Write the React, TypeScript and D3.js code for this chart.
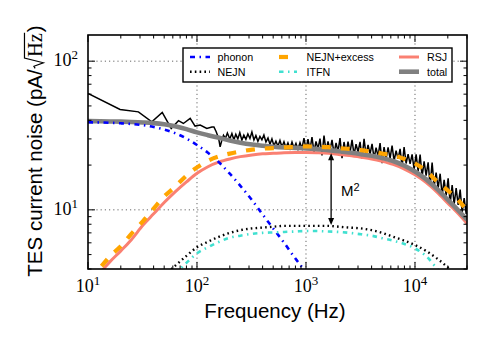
import React, { useEffect, useRef } from 'react';
import * as d3 from 'd3';

// model curves, sampled on a common frequency grid (Hz); values in pA/sqrt(Hz)
const modelFreq = [10, 13, 16, 20, 25, 32, 40, 50, 63, 80, 100, 126, 160, 200, 250, 320, 400, 500, 630, 800,
  1000, 1260, 1600, 2000, 2500, 3200, 4000, 5000, 6300, 8000, 10000, 12600, 16000, 20000, 25000, 30000];
const phonon = [38.8, 38.7, 38.5, 38.2, 37.8, 37.1, 36.1, 34.7, 32.8, 30.2, 27.3, 24.2, 20.8, 17.5, 14.5, 11.6, 9.3, 7.5, 6.0, 4.7,
  3.8, 3.0, null, null, null, null, null, null, null, null, null, null, null, null, null, null];
const nejn = [null, null, null, null, null, null, null, 3.6, 4.2, 4.9, 5.6, 6.1, 6.6, 7.0, 7.3, 7.5, 7.6, 7.7, 7.8, 7.8,
  7.8, 7.8, 7.8, 7.7, 7.6, 7.5, 7.3, 7.0, 6.6, 6.2, 5.8, 5.3, 4.7, 4.1, 3.5, null];
const nejnExcess = [3.4, 4.1, 4.9, 5.7, 6.9, 8.4, 10.2, 12.3, 14.3, 17.0, 19.3, 21.4, 22.9, 23.9, 24.7, 25.4, 25.8, 26.0, 26.3, 26.5,
  26.7, 26.6, 26.4, 26.0, 25.7, 25.2, 24.6, 23.9, 23.2, 22.0, 20.5, 18.3, 15.5, 13.5, 11.6, 9.9];
const itfn = [null, null, null, null, null, null, null, null, 3.7, 4.4, 5.1, 5.6, 6.1, 6.5, 6.7, 6.9, 7.0, 7.05, 7.1, 7.15,
  7.2, 7.2, 7.15, 7.1, 7.0, 6.85, 6.7, 6.45, 6.2, 5.9, 5.5, 4.9, 4.0, 3.3, null, null];
const rsj = [3.2, 3.8, 4.5, 5.3, 6.3, 7.9, 9.4, 11.2, 13.2, 15.4, 17.6, 19.5, 21.0, 22.0, 22.8, 23.4, 23.8, 24.0, 24.2, 24.3,
  24.3, 24.2, 24.0, 23.6, 23.2, 22.6, 22.0, 21.2, 20.2, 18.8, 17.2, 15.3, 13.1, 11.1, 9.4, 8.1];
const total = [39.5, 39.4, 39.3, 39.2, 39.0, 38.7, 38.3, 37.6, 36.5, 34.9, 33.2, 31.8, 30.5, 29.3, 28.3, 27.5, 27.0, 26.6, 26.3, 26.1,
  25.9, 25.6, 25.2, 24.8, 24.3, 23.7, 23.1, 22.3, 21.3, 19.8, 18.1, 16.1, 13.8, 11.7, 9.9, 8.6];

// measured spectrum
const measFreq = [10, 19.7, 29, 38.5, 48, 58, 67.6, 75, 86.6, 96, 107, 123, 137, 143, 150, 158, 163, 169, 175,
  182, 190, 200, 209, 218, 227, 237, 247, 258, 269, 281, 293, 306, 319, 333, 347, 362, 378, 394, 411, 429, 448,
  467, 487, 508, 530, 553, 577, 602, 628, 655, 683, 713, 744, 776, 809, 844, 881, 919, 958, 1000,
  1043, 1088, 1135, 1184, 1235, 1289, 1344, 1402, 1463, 1526, 1592, 1661, 1733, 1808, 1886, 1967, 2052, 2141, 2233, 2330,
  2430, 2535, 2645, 2759, 2878, 3003, 3132, 3268, 3409, 3556, 3710, 3870, 4037, 4212, 4394, 4583, 4781, 4988, 5203, 5428,
  5663, 5907, 6163, 6429, 6707, 6996, 7299, 7614, 7943, 8286, 8644, 9018, 9407, 9814, 10238, 10680, 11142, 11623, 12125, 12649,
  13196, 13766, 14360, 14981, 15628, 16303, 17007, 17742, 18508, 19308, 20142, 21012, 21920, 22867, 23855, 24885, 25960, 27082, 28252, 29472, 30000];
const measNoise = [60.6, 47.3, 45.6, 39.1, 45.2, 35.3, 39.8, 38.1, 41.2, 36.6, 37.2, 35.3, 36.1, 36.1, 33.5, 30.2, 26.5, 29.4, 31.7,
  30.2, 32.9, 30.0, 32.6, 29.6, 32.2, 30.0, 33.0, 29.4, 31.8, 29.8, 32.4, 30.2, 33.4, 29.5, 31.6, 28.9, 31.2, 29.6, 31.9, 28.6, 30.4,
  27.6, 30.0, 27.0, 29.0, 26.8, 29.3, 26.5, 28.7, 26.2, 28.2, 25.9, 28.6, 26.0, 28.0, 25.6, 28.3, 25.9, 30.4, 25.6,
  29.9, 25.3, 30.9, 24.4, 28.9, 25.7, 30.1, 23.2, 31.6, 24.7, 28.9, 25.2, 29.6, 23.8, 28.2, 24.7, 30.4, 22.3, 28.6, 24.0,
  28.8, 24.3, 29.6, 23.4, 27.7, 24.5, 28.7, 22.1, 30.0, 23.4, 27.3, 23.7, 27.8, 22.2, 26.2, 23.0, 28.1, 20.6, 26.4, 21.9,
  26.3, 22.2, 27.0, 21.3, 25.0, 22.0, 25.7, 19.6, 26.4, 20.5, 23.7, 20.4, 23.6, 18.7, 23.6, 18.2, 23.5, 16.7, 21.2, 17.0,
  20.9, 14.5, 20.8, 14.4, 17.8, 14.0, 17.5, 12.5, 15.9, 12.5, 16.3, 10.9, 14.7, 10.9, 14.0, 10.8, 13.7, 9.6, 12.0, 9.4, 11.0];

const xTicks = [10, 100, 1000, 10000];
const yTicks = [10, 100];

// M^2 arrow: frequency, top and bottom values
const arrowFreq = 1700;
const arrowTop = 24.0;
const arrowBottom = 7.9;

const series = [
  { key: 'rsj', label: 'RSJ', values: rsj },
  { key: 'total', label: 'total', values: total },
  { key: 'phonon', label: 'phonon', values: phonon },
  { key: 'nejn', label: 'NEJN', values: nejn },
  { key: 'itfn', label: 'ITFN', values: itfn },
  { key: 'nejnExcess', label: 'NEJN+excess', values: nejnExcess },
];

const styles: Record<string, { stroke: string; width: number; dash: string | null }> = {
  phonon: { stroke: '#0000ff', width: 2.6, dash: '5,4.5,1.5,4.5' },
  nejn: { stroke: '#000000', width: 2.4, dash: '1.6,3.2' },
  nejnExcess: { stroke: '#ffa500', width: 4.2, dash: '9,10' },
  itfn: { stroke: '#40e0d0', width: 2.6, dash: '4.5,4.5,1.5,4.5' },
  rsj: { stroke: '#fa8072', width: 3, dash: null },
  total: { stroke: '#808080', width: 4.6, dash: null },
};

// legend layout: [key, column, row]
const legendOrder: [string, number, number][] = [
  ['phonon', 0, 0], ['nejn', 0, 1],
  ['nejnExcess', 1, 0], ['itfn', 1, 1],
  ['rsj', 2, 0], ['total', 2, 1],
];

const W = 491;
const H = 340;
const box = { l: 88, r: 467, t: 35, b: 269 };
const SANS = '"Liberation Sans", Arial, Helvetica, sans-serif';
const SERIF = '"Liberation Serif", "Times New Roman", serif';

export default function App() {
  const ref = useRef<SVGSVGElement>(null);

  useEffect(() => {
    const svg = d3.select(ref.current);
    svg.selectAll('*').remove();

    const x = d3.scaleLog().domain([10, 30000]).range([box.l, box.r]);
    const y = d3.scaleLog().domain([4, 150]).range([box.b, box.t]);

    svg.append('rect').attr('width', W).attr('height', H).attr('fill', '#fff');

    svg.append('clipPath').attr('id', 'plotclip')
      .append('rect').attr('x', box.l).attr('y', box.t)
      .attr('width', box.r - box.l).attr('height', box.b - box.t);

    // grid
    const grid = svg.append('g').attr('stroke', '#555').attr('stroke-width', 0.9).attr('stroke-dasharray', '1.2,3');
    xTicks.filter(t => t > 10).forEach(t => {
      grid.append('line').attr('x1', x(t)).attr('x2', x(t)).attr('y1', box.t).attr('y2', box.b);
    });
    yTicks.forEach(t => {
      grid.append('line').attr('x1', box.l).attr('x2', box.r).attr('y1', y(t)).attr('y2', y(t));
    });

    const plot = svg.append('g').attr('clip-path', 'url(#plotclip)');

    // measured data
    const measLine = d3.line<number>()
      .x((_, i) => x(measFreq[i]))
      .y(d => y(d));
    plot.append('path').attr('d', measLine(measNoise))
      .attr('fill', 'none').attr('stroke', '#000').attr('stroke-width', 1.5)
      .attr('stroke-linejoin', 'miter');

    // model curves
    series.forEach(s => {
      const st = styles[s.key];
      const line = d3.line<number | null>()
        .defined(d => d != null)
        .x((_, i) => x(modelFreq[i]))
        .y(d => y(d as number))
        .curve(d3.curveMonotoneX);
      plot.append('path').attr('d', line(s.values))
        .attr('fill', 'none').attr('stroke', st.stroke).attr('stroke-width', st.width)
        .attr('stroke-dasharray', st.dash);
    });

    // M^2 arrow
    const ax = x(arrowFreq);
    const ay1 = y(arrowTop);
    const ay2 = y(arrowBottom);
    const ag = svg.append('g');
    ag.append('line').attr('x1', ax).attr('x2', ax).attr('y1', ay1 + 4).attr('y2', ay2 - 4)
      .attr('stroke', '#000').attr('stroke-width', 1.3);
    ag.append('path').attr('d', `M${ax},${ay1} L${ax - 3},${ay1 + 7} L${ax + 3},${ay1 + 7} Z`).attr('fill', '#000');
    ag.append('path').attr('d', `M${ax},${ay2} L${ax - 3},${ay2 - 7} L${ax + 3},${ay2 - 7} Z`).attr('fill', '#000');
    const mt = svg.append('text').attr('x', ax + 10).attr('y', 196)
      .attr('font-family', SANS).attr('font-size', 15).text('M');
    mt.append('tspan').attr('dy', -5).attr('font-size', 11).text('2');

    // frame
    svg.append('rect').attr('x', box.l).attr('y', box.t)
      .attr('width', box.r - box.l).attr('height', box.b - box.t)
      .attr('fill', 'none').attr('stroke', '#000').attr('stroke-width', 1.6);

    // ticks on all four sides, pointing inward
    const tk = svg.append('g').attr('stroke', '#000').attr('stroke-width', 1);
    const xAll: [number, boolean][] = [];
    for (let e = 1; e <= 4; e++) {
      for (let m = 1; m <= 9; m++) {
        const v = m * Math.pow(10, e);
        if (v >= 10 && v <= 30000) xAll.push([v, m === 1]);
      }
    }
    xAll.forEach(([v, major]) => {
      const len = major ? 7 : 3.5;
      tk.append('line').attr('x1', x(v)).attr('x2', x(v)).attr('y1', box.b).attr('y2', box.b - len);
      tk.append('line').attr('x1', x(v)).attr('x2', x(v)).attr('y1', box.t).attr('y2', box.t + len);
    });
    const yAll: [number, boolean][] = [];
    for (let e = 0; e <= 2; e++) {
      for (let m = 1; m <= 9; m++) {
        const v = m * Math.pow(10, e);
        if (v >= 4 && v <= 150) yAll.push([v, m === 1]);
      }
    }
    yAll.forEach(([v, major]) => {
      const len = major ? 7 : 3.5;
      tk.append('line').attr('x1', box.l).attr('x2', box.l + len).attr('y1', y(v)).attr('y2', y(v));
      tk.append('line').attr('x1', box.r).attr('x2', box.r - len).attr('y1', y(v)).attr('y2', y(v));
    });

    // tick labels
    xTicks.forEach(t => {
      const tx = svg.append('text').attr('x', x(t)).attr('y', 292)
        .attr('text-anchor', 'middle').attr('font-family', SERIF).attr('font-size', 18).text('10');
      tx.append('tspan').attr('dy', -7).attr('font-size', 13).text(String(Math.round(Math.log10(t))));
    });
    yTicks.forEach(t => {
      const ty = svg.append('text').attr('x', 78).attr('y', y(t) + 5)
        .attr('text-anchor', 'end').attr('font-family', SERIF).attr('font-size', 18).text('10');
      ty.append('tspan').attr('dy', -7).attr('font-size', 13).text(String(Math.round(Math.log10(t))));
    });

    // axis labels
    svg.append('text').attr('x', 275).attr('y', 318)
      .attr('text-anchor', 'middle').attr('font-family', SANS).attr('font-size', 20.5)
      .text('Frequency (Hz)');

    const fs = 20.5;
    const yl = svg.append('g').attr('transform', 'translate(41.7,151) rotate(-90)');
    const p1 = yl.append('text').attr('font-family', SANS).attr('font-size', fs).text('TES current noise (pA/');
    const p3 = yl.append('text').attr('font-family', SERIF).attr('font-size', fs).text('Hz');
    const p4 = yl.append('text').attr('font-family', SANS).attr('font-size', fs).text(')');
    const w1 = (p1.node() as SVGTextElement).getComputedTextLength();
    const wh = (p3.node() as SVGTextElement).getComputedTextLength();
    const w4 = (p4.node() as SVGTextElement).getComputedTextLength();
    const wr = 0.55 * fs;
    const start = -(w1 + wr + wh + w4 + 2) / 2;
    p1.attr('x', start);
    const r0 = start + w1 + 1;
    p3.attr('x', r0 + wr);
    p4.attr('x', r0 + wr + wh + 1);
    yl.append('path')
      .attr('d', `M${r0},${-0.32 * fs} L${r0 + 0.1 * fs},${-0.38 * fs} L${r0 + 0.27 * fs},${0.08 * fs} ` +
        `L${r0 + 0.5 * fs},${-0.84 * fs} L${r0 + wr + wh + 0.5},${-0.84 * fs}`)
      .attr('fill', 'none').attr('stroke', '#000').attr('stroke-width', 1.2);

    // legend
    const lg = svg.append('g');
    lg.append('rect').attr('x', 183).attr('y', 48).attr('width', 269).attr('height', 34)
      .attr('fill', '#fff').attr('stroke', '#000').attr('stroke-width', 1.4);
    const colHandle = [190, 279, 399];
    const colText = [217.5, 306.5, 427];
    const rowY = [57, 71.7];
    legendOrder.forEach(([key, c, r]) => {
      const st = styles[key];
      const s = series.find(d => d.key === key)!;
      lg.append('line').attr('x1', colHandle[c]).attr('x2', colHandle[c] + (c === 1 ? 18 : 20))
        .attr('y1', rowY[r]).attr('y2', rowY[r])
        .attr('stroke', st.stroke).attr('stroke-width', st.width).attr('stroke-dasharray', st.dash);
      lg.append('text').attr('x', colText[c]).attr('y', rowY[r] + 4)
        .attr('font-family', SANS).attr('font-size', 10.7).text(s.label);
    });
  }, []);

  return (
    <svg ref={ref} width={W} height={H}
      style={{ position: 'absolute', left: 0, top: 0, display: 'block' }} />
  );
}
